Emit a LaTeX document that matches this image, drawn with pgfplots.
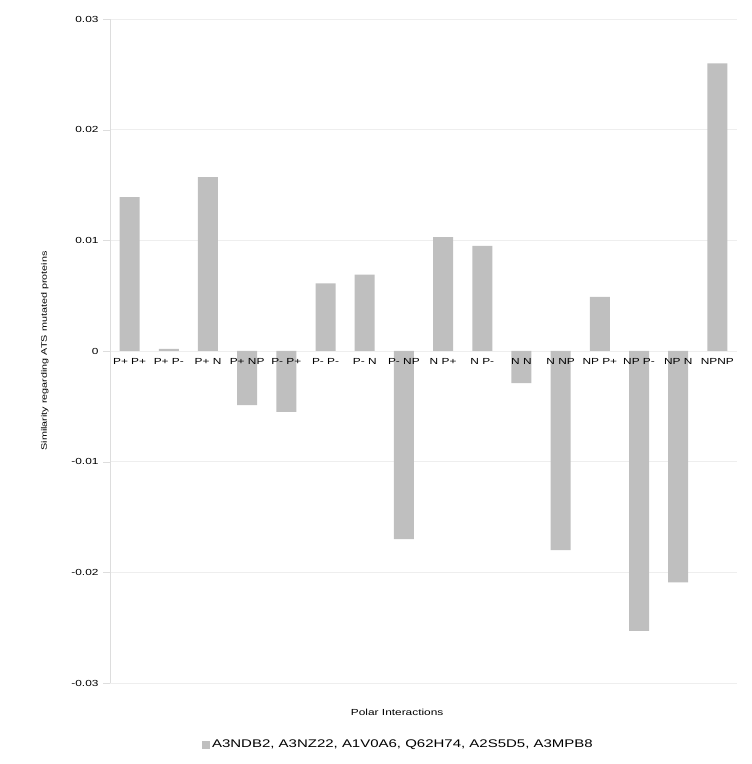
\documentclass[border=0pt]{standalone}
\usepackage{pgfplots}
\pgfplotsset{compat=1.18}
\usepackage{fontspec}
\setmainfont{Liberation Sans}[FakeStretch=1.35]
\definecolor{barfill}{HTML}{BFBFBF}
\definecolor{gridc}{HTML}{EEEEEE}
\definecolor{axisc}{HTML}{DDDDDD}
\begin{document}
\begin{tikzpicture}
\begin{axis}[
  name=ax,
  scale only axis, width=627pt, height=664pt,
  ybar, bar width=20pt,
  xmin=-0.5, xmax=15.5, ymin=-0.03, ymax=0.03,
  xtick=\empty,
  ytick={-0.03,-0.02,...,0.03},
  scaled y ticks=false,
  yticklabel style={/pgf/number format/fixed, /pgf/number format/precision=2, /pgf/number format/assume math mode=true},
  tick label style={font=\fontsize{8.8}{10}\selectfont, color=black},
  axis y line*=left, axis x line*=middle,
  x axis line style={draw=none}, y axis line style={color=axisc},
  y tick style={color=axisc},
  tick align=outside, major tick length=7pt,
  ymajorgrids, grid style={color=gridc},
  yticklabel style={xshift=-1pt},
  ylabel={Similarity regarding ATS mutated proteins},
  ylabel style={font=\fontsize{8}{9}\selectfont, at={(axis description cs:-0.104,0.5)}, anchor=center, rotate=0},
  xlabel={Polar Interactions},
  xlabel style={font=\fontsize{8.8}{10}\selectfont, at={(axis description cs:0.458,-0.044)}, anchor=center},
  legend style={at={(axis description cs:0.460,-0.093)}, anchor=center, draw=none, fill=none, font=\fontsize{11.1}{12}\selectfont},
  legend image code/.code={\fill[barfill] (0pt,-4pt) rectangle (8pt,4pt);},
  clip=false,
  extra description/.code={
    \foreach \i/\t in {0/P+ P+, 1/P+ P-, 2/P+ N, 3/P+ NP, 4/P- P+, 5/P- P-, 6/P- N, 7/P- NP,
                       8/N P+, 9/N P-, 10/N N, 11/N NP, 12/NP P+, 13/NP P-, 14/NP N, 15/NPNP}
      \node[anchor=north, yshift=-4pt, font=\fontsize{8.8}{10}\selectfont, text=black] at (axis cs:\i,0) {\t};
  },
]
\addplot[fill=barfill, draw=none] coordinates {
  (0,0.0139) (1,0.0002) (2,0.0157) (3,-0.0049) (4,-0.0055) (5,0.0061)
  (6,0.0069) (7,-0.0170) (8,0.0103) (9,0.0095) (10,-0.0029) (11,-0.0180)
  (12,0.0049) (13,-0.0253) (14,-0.0209) (15,0.0260)};
\addlegendentry{A3NDB2, A3NZ22, A1V0A6, Q62H74, A2S5D5, A3MPB8}
\end{axis}
\path[use as bounding box] ([xshift=-110pt,yshift=-81pt]ax.south west) rectangle ([xshift=14pt,yshift=19pt]ax.north east);
\end{tikzpicture}
\end{document}
